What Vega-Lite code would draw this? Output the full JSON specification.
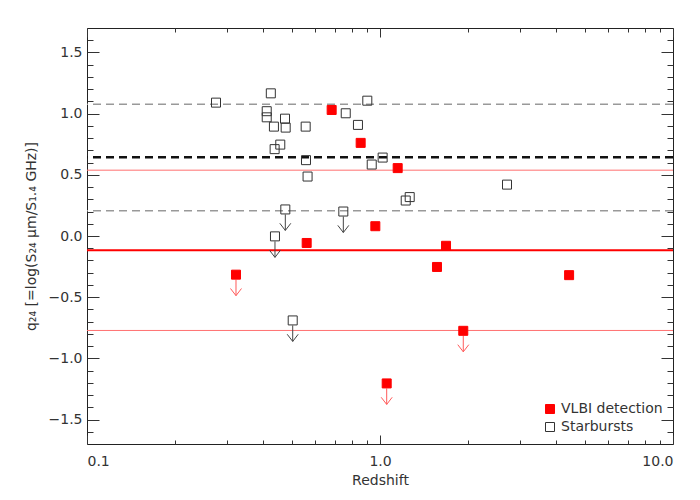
{
  "$schema": "https://vega.github.io/schema/vega-lite/v6.json",
  "width": 586,
  "height": 416,
  "autosize": {"type": "none"},
  "padding": {"left": 87, "top": 28, "right": 27, "bottom": 56},
  "background": "white",
  "config": {
    "view": {"stroke": "#222", "strokeWidth": 1},
    "font": "DejaVu Sans",
    "axis": {"grid": false, "domain": false, "labelFont": "DejaVu Sans", "titleFont": "DejaVu Sans", "labelColor": "#333", "titleColor": "#333", "tickColor": "#333", "labelFontSize": 14, "titleFontSize": 14, "titleFontWeight": "normal"},
    "legend": {"labelFont": "DejaVu Sans", "labelFontSize": 14, "labelColor": "#333"}
  },
  "datasets": {
    "lines": [
      {"group": "Starbursts", "stat": "upper", "q": 1.077},
      {"group": "Starbursts", "stat": "mean", "q": 0.644},
      {"group": "Starbursts", "stat": "lower", "q": 0.207},
      {"group": "VLBI detection", "stat": "upper", "q": 0.538},
      {"group": "VLBI detection", "stat": "mean", "q": -0.117},
      {"group": "VLBI detection", "stat": "lower", "q": -0.772}
    ],
    "points": [
      {"type": "VLBI detection", "z": 0.3225, "q": -0.316, "limit": true},
      {"type": "VLBI detection", "z": 0.684, "q": 1.03, "limit": false},
      {"type": "VLBI detection", "z": 0.859, "q": 0.761, "limit": false},
      {"type": "VLBI detection", "z": 1.149, "q": 0.555, "limit": false},
      {"type": "VLBI detection", "z": 0.562, "q": -0.057, "limit": false},
      {"type": "VLBI detection", "z": 0.964, "q": 0.08, "limit": false},
      {"type": "VLBI detection", "z": 1.68, "q": -0.08, "limit": false},
      {"type": "VLBI detection", "z": 1.565, "q": -0.253, "limit": false},
      {"type": "VLBI detection", "z": 4.42, "q": -0.32, "limit": false},
      {"type": "VLBI detection", "z": 1.924, "q": -0.775, "limit": true},
      {"type": "VLBI detection", "z": 1.054, "q": -1.205, "limit": true},
      {"type": "Starbursts", "z": 0.2756, "q": 1.09, "limit": false},
      {"type": "Starbursts", "z": 0.424, "q": 1.166, "limit": false},
      {"type": "Starbursts", "z": 0.4106, "q": 1.02, "limit": false},
      {"type": "Starbursts", "z": 0.4106, "q": 0.97, "limit": false},
      {"type": "Starbursts", "z": 0.474, "q": 0.959, "limit": false},
      {"type": "Starbursts", "z": 0.4345, "q": 0.894, "limit": false},
      {"type": "Starbursts", "z": 0.4765, "q": 0.886, "limit": false},
      {"type": "Starbursts", "z": 0.5576, "q": 0.894, "limit": false},
      {"type": "Starbursts", "z": 0.764, "q": 1.003, "limit": false},
      {"type": "Starbursts", "z": 0.905, "q": 1.106, "limit": false},
      {"type": "Starbursts", "z": 0.841, "q": 0.908, "limit": false},
      {"type": "Starbursts", "z": 0.4567, "q": 0.747, "limit": false},
      {"type": "Starbursts", "z": 0.4369, "q": 0.71, "limit": false},
      {"type": "Starbursts", "z": 0.559, "q": 0.62, "limit": false},
      {"type": "Starbursts", "z": 0.566, "q": 0.486, "limit": false},
      {"type": "Starbursts", "z": 1.021, "q": 0.641, "limit": false},
      {"type": "Starbursts", "z": 0.937, "q": 0.584, "limit": false},
      {"type": "Starbursts", "z": 1.224, "q": 0.29, "limit": false},
      {"type": "Starbursts", "z": 1.263, "q": 0.318, "limit": false},
      {"type": "Starbursts", "z": 2.713, "q": 0.42, "limit": false},
      {"type": "Starbursts", "z": 0.4752, "q": 0.217, "limit": true},
      {"type": "Starbursts", "z": 0.7496, "q": 0.2, "limit": true},
      {"type": "Starbursts", "z": 0.4381, "q": -0.003, "limit": true},
      {"type": "Starbursts", "z": 0.5036, "q": -0.69, "limit": true}
    ]
  },
  "resolve": {"axis": {"x": "independent", "y": "independent"}},
  "layer": [
    {
      "data": {"name": "lines"},
      "transform": [{"filter": "datum.group == 'Starbursts' && datum.stat != 'mean'"}],
      "mark": {"type": "rule", "color": "#999999", "strokeWidth": 1.5, "strokeDash": [8, 5]},
      "encoding": {
        "y": {"field": "q", "type": "quantitative", "scale": {"domain": [-1.7, 1.7], "nice": false, "zero": false},
              "axis": {"orient": "left", "values": [-1.5, -1, -0.5, 0, 0.5, 1, 1.5], "labels": false, "ticks": true, "tickSize": -12, "title": null}}
      }
    },
    {
      "data": {"name": "lines"},
      "transform": [{"filter": "datum.group == 'Starbursts' && datum.stat == 'mean'"}],
      "mark": {"type": "rule", "color": "#111111", "strokeWidth": 2.5, "strokeDash": [8, 5]},
      "encoding": {
        "y": {"field": "q", "type": "quantitative",
              "axis": {"orient": "right", "values": [-1.5, -1, -0.5, 0, 0.5, 1, 1.5], "labels": false, "ticks": true, "tickSize": -12, "title": null}}
      }
    },
    {
      "data": {"name": "lines"},
      "transform": [{"filter": "datum.group == 'VLBI detection' && datum.stat != 'mean'"}],
      "mark": {"type": "rule", "color": "#ff7070", "strokeWidth": 1},
      "encoding": {
        "y": {"field": "q", "type": "quantitative",
              "axis": {"orient": "left", "values": [-1.6, -1.4, -1.3, -1.2, -1.1, -0.9, -0.8, -0.7, -0.6, -0.4, -0.3, -0.2, -0.1, 0.1, 0.2, 0.3, 0.4, 0.6, 0.7, 0.8, 0.9, 1.1, 1.2, 1.3, 1.4, 1.6], "labels": false, "ticks": true, "tickSize": -6, "title": null}}
      }
    },
    {
      "data": {"name": "lines"},
      "transform": [{"filter": "datum.group == 'VLBI detection' && datum.stat == 'mean'"}],
      "mark": {"type": "rule", "color": "#ff0000", "strokeWidth": 2},
      "encoding": {
        "y": {"field": "q", "type": "quantitative",
              "axis": {"orient": "right", "values": [-1.6, -1.4, -1.3, -1.2, -1.1, -0.9, -0.8, -0.7, -0.6, -0.4, -0.3, -0.2, -0.1, 0.1, 0.2, 0.3, 0.4, 0.6, 0.7, 0.8, 0.9, 1.1, 1.2, 1.3, 1.4, 1.6], "labels": false, "ticks": true, "tickSize": -6, "title": null}}
      }
    },
    {
      "data": {"name": "points"},
      "transform": [{"filter": "datum.limit && datum.type == 'VLBI detection'"}],
      "mark": {"type": "rule", "color": "#ff5a5a", "strokeWidth": 1, "yOffset": 5, "y2Offset": 21},
      "encoding": {
        "x": {"field": "z", "type": "quantitative", "scale": {"type": "log", "domain": [0.1, 10], "nice": false},
              "axis": {"orient": "bottom", "values": [0.1, 1, 10], "labels": false, "ticks": true, "tickSize": -9, "title": null}},
        "y": {"field": "q", "type": "quantitative", "axis": null},
        "y2": {"field": "q"}
      }
    },
    {
      "data": {"name": "points"},
      "transform": [{"filter": "datum.limit && datum.type == 'VLBI detection'"}],
      "mark": {"type": "point", "shape": "M-1,-1.3L0,0L1,-1.3", "size": 121, "filled": false, "stroke": "#ff5a5a", "strokeWidth": 1, "opacity": 1, "yOffset": 21},
      "encoding": {
        "x": {"field": "z", "type": "quantitative",
              "axis": {"orient": "bottom", "values": [0.2, 0.3, 0.4, 0.5, 0.6, 0.7, 0.8, 0.9, 2, 3, 4, 5, 6, 7, 8, 9], "labels": false, "ticks": true, "tickSize": -4, "title": null}},
        "y": {"field": "q", "type": "quantitative", "axis": null}
      }
    },
    {
      "data": {"name": "points"},
      "transform": [{"filter": "datum.limit && datum.type == 'Starbursts'"}],
      "mark": {"type": "rule", "color": "#444444", "strokeWidth": 1, "yOffset": 5, "y2Offset": 21},
      "encoding": {
        "x": {"field": "z", "type": "quantitative",
              "axis": {"orient": "top", "values": [0.1, 1, 10], "labels": false, "ticks": true, "tickSize": -9, "title": null}},
        "y": {"field": "q", "type": "quantitative", "axis": null},
        "y2": {"field": "q"}
      }
    },
    {
      "data": {"name": "points"},
      "transform": [{"filter": "datum.limit && datum.type == 'Starbursts'"}],
      "mark": {"type": "point", "shape": "M-1,-1.3L0,0L1,-1.3", "size": 121, "filled": false, "stroke": "#444444", "strokeWidth": 1, "opacity": 1, "yOffset": 21},
      "encoding": {
        "x": {"field": "z", "type": "quantitative",
              "axis": {"orient": "top", "values": [0.2, 0.3, 0.4, 0.5, 0.6, 0.7, 0.8, 0.9, 2, 3, 4, 5, 6, 7, 8, 9], "labels": false, "ticks": true, "tickSize": -4, "title": null}},
        "y": {"field": "q", "type": "quantitative", "axis": null}
      }
    },
    {
      "data": {"name": "points"},
      "mark": {"type": "point", "shape": "square", "size": 81, "strokeWidth": 1, "opacity": 1},
      "encoding": {
        "x": {"field": "z", "type": "quantitative",
              "axis": {"orient": "bottom", "values": [0.1, 1, 10], "format": ".1f", "ticks": false, "labelPadding": 10, "title": "Redshift", "titlePadding": 5}},
        "y": {"field": "q", "type": "quantitative",
              "axis": {"orient": "left", "values": [-1.5, -1, -0.5, 0, 0.5, 1, 1.5], "format": ".1f", "labelExpr": "replace(datum.label, '-', '−')", "ticks": false, "labelPadding": 5, "title": "q₂₄  [=log(S₂₄ μm/S₁.₄ GHz)]", "titlePadding": 10}},
        "fill": {"field": "type", "type": "nominal",
                 "scale": {"domain": ["VLBI detection", "Starbursts"], "range": ["#ff0000", "transparent"]},
                 "legend": {"title": null, "orient": "none", "legendX": 456, "legendY": 374, "symbolType": "square", "symbolSize": 81, "symbolStrokeWidth": 1, "labelOffset": 4, "rowPadding": 4, "padding": 0}},
        "stroke": {"field": "type", "type": "nominal",
                   "scale": {"domain": ["VLBI detection", "Starbursts"], "range": ["#ff0000", "#333333"]},
                   "legend": {"title": null, "orient": "none", "legendX": 456, "legendY": 374, "symbolType": "square", "symbolSize": 81, "symbolStrokeWidth": 1, "labelOffset": 4, "rowPadding": 4, "padding": 0}}
      }
    }
  ]
}
